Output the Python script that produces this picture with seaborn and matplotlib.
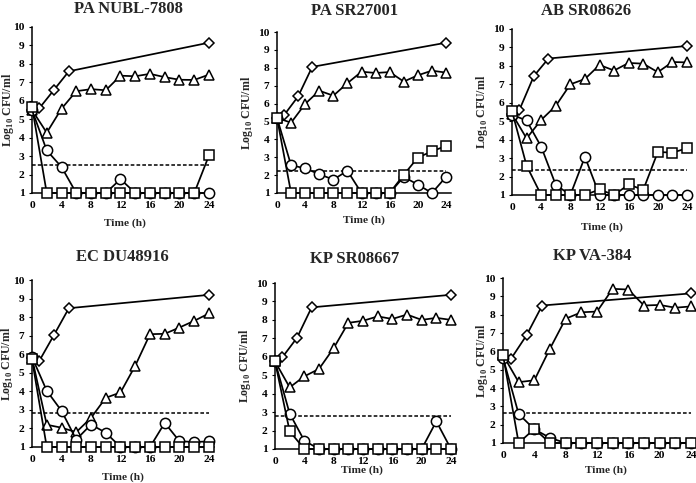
import numpy as np
import pandas as pd
import matplotlib
matplotlib.use("Agg")
import matplotlib.pyplot as plt
import seaborn as sns

sns.set_theme(style="white")
plt.rcParams['font.family'] = ['Liberation Serif', 'DejaVu Serif']
plt.rcParams['font.weight'] = 'bold'
plt.rcParams['mathtext.fontset'] = 'custom'
plt.rcParams['mathtext.rm'] = 'Liberation Serif:bold'
plt.rcParams['mathtext.bf'] = 'Liberation Serif:bold'

titles = ["PA NUBL-7808", "PA SR27001", "AB SR08626",
          "EC DU48916", "KP SR08667", "KP VA-384"]

# time points
t_ctrl = [0, 1, 3, 5, 24]
t_all = [0, 2, 4, 6, 8, 10, 12, 14, 16, 18, 20, 22, 24]

# control (diamond)
ctrl = [
    [5.5, 5.6, 6.6, 7.6, 9.15],
    [5.2, 5.35, 6.4, 8.05, 9.4],
    [5.4, 5.6, 7.45, 8.4, 9.08],
    [5.8, 5.65, 7.05, 8.48, 9.2],
    [5.75, 5.97, 7.03, 8.68, 9.36],
    [5.65, 5.58, 6.87, 8.5, 9.16],
]
# triangle series
tri = [
    [5.5, 4.27, 5.57, 6.52, 6.63, 6.57, 7.36, 7.33, 7.46, 7.28, 7.14, 7.13, 7.42],
    [5.2, 4.93, 5.98, 6.72, 6.44, 7.14, 7.78, 7.71, 7.76, 7.23, 7.58, 7.84, 7.73],
    [5.4, 4.07, 5.07, 5.83, 7.0, 7.29, 8.05, 7.75, 8.16, 8.12, 7.66, 8.21, 8.19],
    [5.8, 2.2, 2.04, 1.8, 2.57, 3.65, 3.94, 5.38, 7.08, 7.1, 7.44, 7.8, 8.2],
    [5.75, 4.34, 4.94, 5.34, 6.47, 7.84, 7.95, 8.19, 8.05, 8.29, 8.0, 8.11, 8.0],
    [5.8, 4.32, 4.42, 6.15, 7.78, 8.13, 8.17, 9.41, 9.37, 8.5, 8.53, 8.38, 8.45],
]
# circle series
circ = [
    [5.5, 3.31, 2.41, 1.0, 1.0, 1.0, 1.75, 1.0, 1.0, 1.0, 1.0, 1.0, 1.0],
    [5.2, 2.55, 2.38, 2.05, 1.75, 2.24, 1.0, 1.0, 1.0, 1.9, 1.47, 1.0, 1.9],
    [5.35, 5.04, 3.62, 1.55, 1.0, 3.07, 1.0, 1.0, 1.0, 1.0, 1.0, 1.0, 1.0],
    [5.85, 4.03, 2.95, 1.4, 2.21, 1.77, 1.0, 1.0, 1.0, 2.3, 1.31, 1.27, 1.3],
    [5.75, 2.92, 1.45, 1.0, 1.0, 1.0, 1.0, 1.0, 1.0, 1.0, 1.0, 2.5, 1.0],
    [5.65, 2.58, 1.75, 1.28, 1.0, 1.0, 1.0, 1.0, 1.0, 1.0, 1.0, 1.0, 1.0],
]
# square series
sq = [
    [5.68, 1.0, 1.0, 1.0, 1.0, 1.0, 1.0, 1.0, 1.0, 1.0, 1.0, 1.0, 3.04],
    [5.2, 1.0, 1.0, 1.0, 1.0, 1.0, 1.0, 1.0, 1.0, 2.02, 2.98, 3.33, 3.63],
    [5.55, 2.59, 1.0, 1.0, 1.0, 1.0, 1.3, 1.0, 1.57, 1.28, 3.33, 3.3, 3.53],
    [5.72, 1.0, 1.0, 1.0, 1.0, 1.0, 1.0, 1.0, 1.0, 1.0, 1.0, 1.0, 1.0],
    [5.75, 1.96, 1.0, 1.0, 1.0, 1.0, 1.0, 1.0, 1.0, 1.0, 1.0, 1.0, 1.0],
    [5.8, 1.0, 1.77, 1.0, 1.0, 1.0, 1.0, 1.0, 1.0, 1.0, 1.0, 1.0, 1.0],
]
# detection limit (dashed)
lod = [2.52, 2.22, 2.36, 2.84, 2.8, 2.63]

xticks = [0, 4, 8, 12, 16, 20, 24]
yticks = [1, 2, 3, 4, 5, 6, 7, 8, 9, 10]

W, H = 696, 483
# pixel geometry per panel: x at t=0, x at t=24, y at 1, y at 10
geom = [
    (32, 209, 193, 27),
    (277, 446, 193, 32),
    (512, 687, 195, 29),
    (32, 209, 447, 280),
    (275, 451, 449, 283),
    (503, 691, 443, 278),
]
# text anchor positions (pixels): title centre, xlabel centre, ylabel x
title_pos = [(128, 9), (355, 11), (586, 11), (122, 257), (355, 259), (592, 256)]
xlab_pos = [(125, 223), (364, 220), (602, 227), (123, 477), (362, 470), (606, 470)]
ylab_x = [8, 247, 482, 7, 245, 482]
XMAX = 24.7

fig = plt.figure(figsize=(W / 100, H / 100), dpi=100)

styles = [
    ("D", 4.6),
    ("^", 6.8),
    ("o", 7.4),
    ("s", 7.0),
]

for i in range(6):
    x0, x24, y1, y10 = geom[i]
    ppu = (x24 - x0) / 24.0
    left = x0 / W
    width = ppu * XMAX / W
    bottom = 1 - y1 / H
    height = (y1 - y10) / H
    ax = fig.add_axes([left, bottom, width, height])

    series = [(t_ctrl, ctrl[i]), (t_all, tri[i]), (t_all, circ[i]), (t_all, sq[i])]
    ax.hlines(lod[i], 0, 24, colors="black", linestyles=(0, (2.4, 1.4)),
              linewidth=1.1, zorder=1)
    for k, ((tx, vy), (mk, ms)) in enumerate(zip(series, styles)):
        df = pd.DataFrame({"t": tx, "v": vy})
        sns.lineplot(data=df, x="t", y="v", ax=ax, color="black", linewidth=1.25,
                     marker=mk, markersize=ms, markerfacecolor="white",
                     markeredgecolor="black", markeredgewidth=1.1,
                     sort=False, estimator=None, clip_on=False, zorder=3 + k)

    ax.set_xlim(0, XMAX)
    ax.set_ylim(1, 10)
    ax.set_xticks(xticks)
    ax.set_yticks(yticks)
    ax.set_xticklabels([str(v) for v in xticks], fontsize=8.2, fontweight="bold")
    ax.set_yticklabels([str(v) for v in yticks], fontsize=8.2, fontweight="bold")
    for s in ["top", "right"]:
        ax.spines[s].set_visible(False)
    for s in ["left", "bottom"]:
        ax.spines[s].set_color("black")
        ax.spines[s].set_linewidth(1.1)
    ax.tick_params(axis="y", direction="out", length=2.5, width=0.8, pad=3,
                   left=True, colors="black")
    ax.tick_params(axis="x", direction="out", length=0, pad=6, bottom=True,
                   colors="black")
    ax.set_xlabel("Time (h)", fontsize=8.2, fontweight="bold")
    ax.set_ylabel(r"Log$_{\mathbf{10}}$ CFU/ml", fontsize=8.6, fontweight="bold")
    ax.xaxis.set_label_coords(xlab_pos[i][0] / W, 1 - xlab_pos[i][1] / H,
                              transform=fig.transFigure)
    ax.xaxis.label.set_verticalalignment("center")
    ax.yaxis.set_label_coords(ylab_x[i] / W, 1 - ((y1 + y10) / 2) / H,
                              transform=fig.transFigure)
    ax.yaxis.label.set_verticalalignment("center")
    fig.text(title_pos[i][0] / W, 1 - title_pos[i][1] / H, titles[i],
             fontsize=12, fontweight="bold", ha="center", va="center")
    ax.set_facecolor("white")

fig.savefig("out.png", dpi=100, facecolor="white")
